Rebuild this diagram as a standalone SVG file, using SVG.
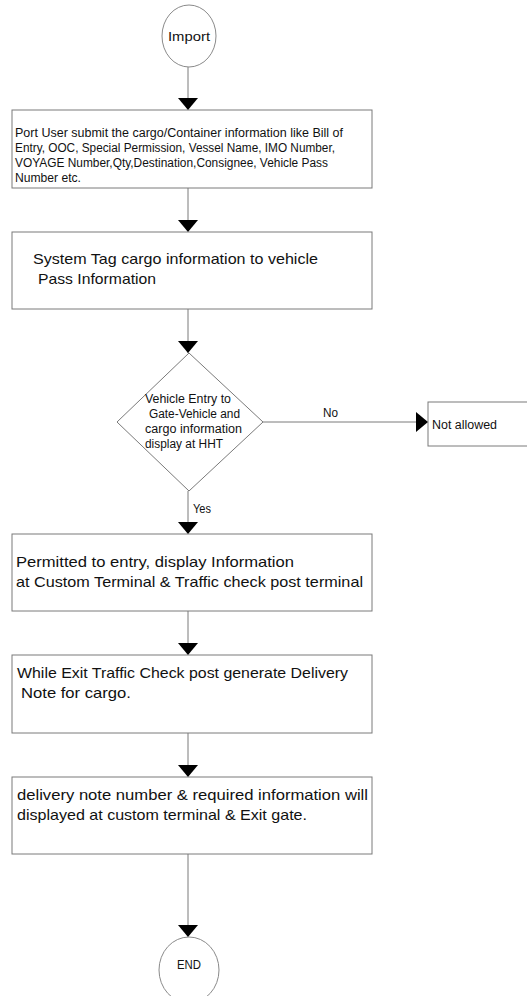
<svg xmlns="http://www.w3.org/2000/svg" width="527" height="996" viewBox="0 0 527 996">
<style>
.box{fill:#fff;stroke:#7a7a7a;stroke-width:1}
.term{fill:#fff;stroke:#8a8a8a;stroke-width:1}
.conn{fill:none;stroke:#7a7a7a;stroke-width:1;marker-end:url(#arr)}
text{font-family:"Liberation Sans",Arial,sans-serif;fill:#111;lengthAdjust:spacingAndGlyphs}
.s{font-size:12.5px}
.m{font-size:14.5px}
</style>
<defs>
<marker id="arr" viewBox="0 0 12 20" refX="12" refY="10" markerWidth="12" markerHeight="20" markerUnits="userSpaceOnUse" orient="auto">
<path d="M0,0 L12,10 L0,20 Z" fill="#000"/>
</marker>
</defs>
<rect width="527" height="996" fill="#fff"/>
<g id="connectors">
<path class="conn" d="M188,67 V110"/>
<path class="conn" d="M188,188 V232"/>
<path class="conn" d="M188,309 V353"/>
<path class="conn" d="M263,422 H428"/>
<path class="conn" d="M188,491 V534"/>
<path class="conn" d="M188,611 V655"/>
<path class="conn" d="M188,733 V777"/>
<path class="conn" d="M188,854 V937"/>
<text class="s" x="323" y="416.5" textLength="15" lengthAdjust="spacingAndGlyphs">No</text>
<text class="s" x="193" y="512.5" textLength="18" lengthAdjust="spacingAndGlyphs">Yes</text>
</g>
<g id="import">
<ellipse class="term" cx="189" cy="36" rx="27" ry="31"/>
<text x="168" y="40.5" font-size="13.5" textLength="42" lengthAdjust="spacingAndGlyphs">Import</text>
</g>
<g id="submit">
<rect class="box" x="12" y="110" width="360" height="78"/>
<text class="s" x="15" y="137" textLength="328" lengthAdjust="spacingAndGlyphs">Port User submit the cargo/Container information like  Bill of</text>
<text class="s" x="15" y="152" textLength="320" lengthAdjust="spacingAndGlyphs">Entry, OOC, Special Permission, Vessel Name, IMO Number,</text>
<text class="s" x="15" y="167" textLength="313" lengthAdjust="spacingAndGlyphs">VOYAGE Number,Qty,Destination,Consignee, Vehicle Pass</text>
<text class="s" x="15" y="182" textLength="66" lengthAdjust="spacingAndGlyphs">Number etc.</text>
</g>
<g id="tag">
<rect class="box" x="12" y="232" width="360" height="77"/>
<text class="m" x="33" y="264" textLength="285" lengthAdjust="spacingAndGlyphs">System Tag cargo information to vehicle</text>
<text class="m" x="38" y="283.5" textLength="118" lengthAdjust="spacingAndGlyphs">Pass Information</text>
</g>
<g id="decision">
<polygon class="box" points="189,353 263,422 189,491 117,422"/>
<text class="s" x="145" y="402.5" textLength="86" lengthAdjust="spacingAndGlyphs">Vehicle Entry to</text>
<text class="s" x="149" y="417.5" textLength="91" lengthAdjust="spacingAndGlyphs">Gate-Vehicle and</text>
<text class="s" x="145" y="432.5" textLength="97" lengthAdjust="spacingAndGlyphs">cargo information</text>
<text class="s" x="145" y="447.5" textLength="78" lengthAdjust="spacingAndGlyphs">display at HHT</text>
</g>
<g id="notallowed">
<rect class="box" x="428" y="402" width="110" height="44"/>
<text class="s" x="432" y="428.5" textLength="65" lengthAdjust="spacingAndGlyphs">Not allowed</text>
</g>
<g id="permitted">
<rect class="box" x="12" y="534" width="360" height="77"/>
<text class="m" x="16" y="567" textLength="278" lengthAdjust="spacingAndGlyphs">Permitted to entry, display Information</text>
<text class="m" x="16" y="587" textLength="347" lengthAdjust="spacingAndGlyphs">at Custom Terminal &amp; Traffic check post terminal</text>
</g>
<g id="exit">
<rect class="box" x="12" y="655" width="360" height="78"/>
<text class="m" x="17" y="678" textLength="331" lengthAdjust="spacingAndGlyphs">While Exit Traffic Check post generate Delivery</text>
<text class="m" x="21" y="698" textLength="110" lengthAdjust="spacingAndGlyphs">Note for  cargo.</text>
</g>
<g id="delivery">
<rect class="box" x="12" y="777" width="360" height="77"/>
<text class="m" x="17" y="800" textLength="351" lengthAdjust="spacingAndGlyphs">delivery note number &amp; required information will</text>
<text class="m" x="17" y="820" textLength="290" lengthAdjust="spacingAndGlyphs">displayed at custom terminal &amp; Exit gate.</text>
</g>
<g id="end">
<ellipse class="term" cx="189" cy="970" rx="30" ry="33"/>
<text x="177" y="968.5" font-size="12" textLength="24" lengthAdjust="spacingAndGlyphs">END</text>
</g>
</svg>
